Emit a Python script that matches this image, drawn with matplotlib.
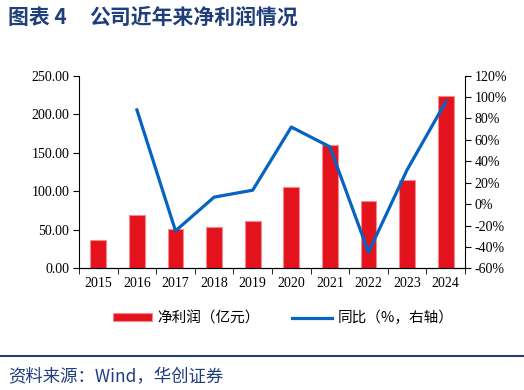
import matplotlib
matplotlib.use('Agg')
import matplotlib.pyplot as plt
import numpy as np
from matplotlib.lines import Line2D

years = ['2015', '2016', '2017', '2018', '2019', '2020', '2021', '2022', '2023', '2024']
profit = [36.5, 69.0, 51.0, 53.5, 61.0, 105.5, 160.5, 87.0, 114.5, 223.5]
yoy = [None, 88.0, -25.0, 6.5, 13.0, 72.0, 53.5, -45.0, 32.0, 95.5]

RED = '#E3121D'
BLUE = '#0563C1'
NAVY = '#1F3E7A'
CJK = ['Noto Sans CJK SC', 'DejaVu Sans']
SERIF = 'Liberation Serif'

plt.rcParams['font.family'] = CJK

fig = plt.figure(figsize=(5.24, 3.9), dpi=100)
ax = fig.add_axes([0.1508, 0.312, 0.7366, 0.494])

x = np.arange(len(years))
ax.bar(x, profit, width=0.41, color=RED, edgecolor='#F28A90', linewidth=0.8, zorder=2)
ax.set_ylim(0, 250)
ax.set_yticks(np.arange(0, 251, 50))
ax.set_yticklabels([f'{v:.2f}' for v in np.arange(0, 251, 50)], fontfamily=SERIF, fontsize=10)
ax.set_xlim(-0.5, len(years) - 0.5)
ax.set_xticks(x)
ax.set_xticklabels(years, fontfamily=SERIF, fontsize=10)
ax.tick_params(axis='x', length=0, pad=6)
ax.set_xticks(np.arange(-0.5, len(years), 1), minor=True)
ax.tick_params(axis='x', which='minor', length=4, direction='out', color='black')
ax.tick_params(axis='y', length=4, direction='out', pad=3)
ax.spines['top'].set_visible(False)
ax.spines['right'].set_visible(False)

ax2 = ax.twinx()
xs = [i for i, v in enumerate(yoy) if v is not None]
ys = [v for v in yoy if v is not None]
ax2.plot(xs, ys, color=BLUE, lw=2.3, zorder=3)
ax2.set_ylim(-60, 120)
ticks = np.arange(-60, 121, 20)
ax2.set_yticks(ticks)
ax2.set_yticklabels([f'{t}%' for t in ticks], fontfamily=SERIF, fontsize=10)
ax2.tick_params(axis='y', length=4, direction='out', pad=3)
ax2.spines['top'].set_visible(False)
ax2.spines['left'].set_visible(False)

handles = [
    plt.Rectangle((0, 0), 1, 1, facecolor=RED, edgecolor='#F28A90', linewidth=0.8),
    Line2D([0], [0], color=BLUE, lw=2.3),
]
fig.legend(handles, ['净利润（亿元）', '同比（%，右轴）'], loc='center',
           bbox_to_anchor=(0.54, 1 - 318 / 390), ncol=2, frameon=False,
           fontsize=10.5, handlelength=2.7, handleheight=0.5, columnspacing=2.2,
           handletextpad=0.4)

fig.text(8 / 524, 1 - 17 / 390, '图表 4', fontsize=15,
         fontweight='bold', color=NAVY, va='center', ha='left')
fig.text(89 / 524, 1 - 17 / 390, '公司近年来净利润情况', fontsize=15,
         fontweight='bold', color=NAVY, va='center', ha='left')

fig.add_artist(Line2D([0, 1], [1 - 356 / 390, 1 - 356 / 390], color=NAVY, lw=1.5))

fig.text(0.015, 1 - 377 / 390, '资料来源：Wind，华创证券', fontsize=12.5,
         style='italic', color=NAVY, va='center', ha='left')

fig.savefig('out.png', dpi=100, facecolor='white')
